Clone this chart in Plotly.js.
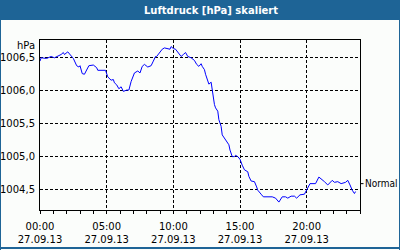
<!DOCTYPE html>
<html>
<head>
<meta charset="utf-8">
<script src="https://cdn.plot.ly/plotly-3.0.1.min.js"></script>
<style>
html,body{margin:0;padding:0;background:#fbfdfb;}
#chart{width:400px;height:250px;}
</style>
</head>
<body>
<div id="chart"></div>
<script>
// Time of day (27.09.13) and air pressure in hPa
const times = ['00:00','00:05','00:30','00:50','01:05','01:20','01:35','01:45','01:50','02:05','02:15','02:30','02:45','02:55','03:00','03:10','03:20','03:30','03:40','04:00','04:15','04:20','04:55','05:05','05:20','05:30','05:35','05:45','05:55','06:05','06:15','06:30','06:40','06:50','07:00','07:05','07:20','07:30','07:40','07:50','08:05','08:20','08:30','08:40','08:45','08:55','09:10','09:20','09:35','09:45','09:50','10:00','10:10','10:20','10:35','10:45','10:55','11:05','11:20','11:35','11:45','11:55','12:05','12:10','12:20','12:25','12:35','12:40','12:50','12:55','13:00','13:05','13:10','13:20','13:25','13:35','13:40','13:50','14:00','14:10','14:15','14:25','14:35','14:40','14:50','15:00','15:10','15:20','15:35','15:40','15:50','16:05','16:15','16:20','16:35','16:45','17:25','17:40','17:55','18:10','18:25','18:35','18:50','19:05','19:15','19:30','19:50','20:00','20:15','20:40','20:55','21:20','21:35','21:55','22:05','22:20','22:35','22:55','23:05','23:15','23:25','23:35','23:40'];
const pressure = [1006.45,1006.50,1006.49,1006.52,1006.50,1006.52,1006.55,1006.58,1006.55,1006.59,1006.55,1006.49,1006.38,1006.36,1006.38,1006.26,1006.25,1006.31,1006.38,1006.39,1006.35,1006.31,1006.31,1006.21,1006.16,1006.17,1006.12,1006.09,1006.03,1006.06,1005.99,1006.01,1006.01,1006.14,1006.22,1006.27,1006.30,1006.27,1006.37,1006.40,1006.36,1006.38,1006.45,1006.52,1006.52,1006.57,1006.63,1006.65,1006.64,1006.63,1006.67,1006.64,1006.63,1006.59,1006.52,1006.55,1006.58,1006.52,1006.50,1006.46,1006.40,1006.37,1006.41,1006.37,1006.32,1006.25,1006.13,1006.10,1006.13,1006.00,1005.91,1005.79,1005.74,1005.69,1005.56,1005.46,1005.33,1005.28,1005.25,1005.18,1005.10,1005.00,1005.00,1005.02,1005.00,1004.96,1004.87,1004.80,1004.77,1004.70,1004.63,1004.62,1004.54,1004.49,1004.43,1004.39,1004.39,1004.37,1004.31,1004.39,1004.39,1004.37,1004.40,1004.40,1004.37,1004.42,1004.43,1004.50,1004.59,1004.59,1004.69,1004.62,1004.57,1004.64,1004.61,1004.62,1004.59,1004.61,1004.64,1004.57,1004.49,1004.44,1004.47];
const day = '2013-09-27';
const xTickTimes = ['00:00','05:00','10:00','15:00','20:00'];
const xTickDate = '27.09.13';
const yTickVals = [1004.5,1005.0,1005.5,1006.0,1006.5];
const yTickText = ['1004,5','1005,0','1005,5','1006,0','1006,5'];
const normalValue = 1004.59;
const normalLabel = 'Normal';
const unitLabel = 'hPa';
const titleText = 'Luftdruck [hPa] skaliert';

const font = 'DejaVu Sans, Verdana, sans-serif';
const blue = '#1e6496';

const trace = {
  x: times.map(t => day + ' ' + t),
  y: pressure,
  type: 'scatter',
  mode: 'lines',
  line: {color: '#0000ff', width: 1},
  hoverinfo: 'skip'
};

const W = 320, H = 170, L = 40, T = 40;
const px = v => (v - L) / W;
const py = v => (T + H - v) / H;

const layout = {
  width: 400, height: 250,
  margin: {l: L, r: 40, t: T, b: 40, pad: 0},
  paper_bgcolor: '#fbfdfb',
  plot_bgcolor: '#fbfdfb',
  showlegend: false,
  font: {family: font, size: 10, color: '#000'},
  title: {
    text: titleText,
    font: {family: 'DejaVu Sans, Verdana, sans-serif', size: 10, color: '#ffffff', weight: 'bold'},
    x: 211 / 400, xref: 'container', xanchor: 'center',
    y: 1 - 10 / 250, yref: 'container', yanchor: 'middle'
  },
  xaxis: {
    type: 'date',
    range: [day + ' 00:00', '2013-09-28 00:00'],
    tickmode: 'array',
    tickvals: xTickTimes.map(t => day + ' ' + t),
    ticktext: xTickTimes.map(t => t + '<br>' + xTickDate),
    ticks: 'outside', ticklen: 3, tickcolor: '#000', tickwidth: 1,
    minor: {dtick: 3600000, tick0: day + ' 00:00', ticks: 'outside', ticklen: 3, tickcolor: '#000', showgrid: false},
    showgrid: true, gridcolor: '#000', gridwidth: 1, griddash: '3px,2px',
    showline: true, linecolor: '#000', linewidth: 1, mirror: true,
    zeroline: false, fixedrange: true,
    ticklabelstandoff: 4,
    tickfont: {family: font, size: 10, color: '#000'}
  },
  yaxis: {
    range: [1004.19, 1006.77],
    tickmode: 'array',
    tickvals: yTickVals,
    ticktext: yTickText,
    ticks: '',
    showgrid: true, gridcolor: '#000', gridwidth: 1, griddash: '3px,2px',
    showline: true, linecolor: '#000', linewidth: 1, mirror: true,
    zeroline: false, fixedrange: true,
    ticklabelstandoff: 2,
    tickfont: {family: font, size: 10, color: '#000'}
  },
  shapes: [
    // title bar
    {type: 'rect', xref: 'paper', yref: 'paper', x0: px(0), x1: px(400), y0: py(20), y1: py(0), fillcolor: blue, line: {width: 0}, layer: 'below'},
    // frame
    {type: 'line', xref: 'paper', yref: 'paper', x0: px(0.5), x1: px(0.5), y0: py(0), y1: py(250), line: {color: blue, width: 1}},
    {type: 'line', xref: 'paper', yref: 'paper', x0: px(399.5), x1: px(399.5), y0: py(0), y1: py(250), line: {color: blue, width: 1}},
    {type: 'line', xref: 'paper', yref: 'paper', x0: px(0), x1: px(400), y0: py(248), y1: py(248), line: {color: blue, width: 2}},
    // normal marker tick
    {type: 'line', xref: 'paper', yref: 'y', x0: 1, x1: px(363.5), y0: normalValue, y1: normalValue, line: {color: '#000', width: 1}}
  ],
  annotations: [
    {text: unitLabel, xref: 'paper', yref: 'paper', x: px(37), y: py(45.5), xanchor: 'right', yanchor: 'middle', showarrow: false, font: {family: font, size: 10, color: '#000'}},
    {text: normalLabel, xref: 'paper', yref: 'y', x: px(363), y: normalValue, xanchor: 'left', yanchor: 'middle', showarrow: false, font: {family: 'DejaVu Sans Condensed, Liberation Sans Narrow, sans-serif', size: 10, color: '#000'}}
  ]
};

Plotly.newPlot('chart', [trace], layout, {staticPlot: true, displayModeBar: false});
</script>
</body>
</html>
